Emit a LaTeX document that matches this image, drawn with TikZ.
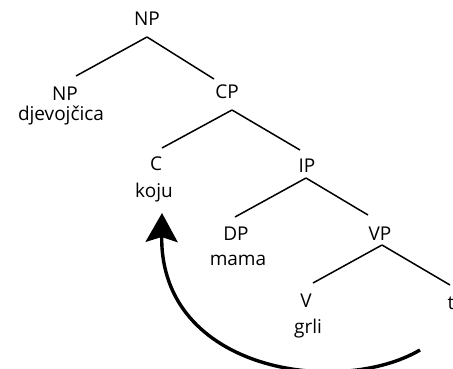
\documentclass[tikz,border=0pt]{standalone}
\usepackage{fontspec}
\setmainfont{Open Sans}
\usetikzlibrary{arrows.meta,calc}
\begin{document}
\begin{tikzpicture}[x=1pt,y=-1pt,
  lbl/.style={anchor=base, inner sep=0pt, font=\fontsize{19}{22}\selectfont, text=black},
  branch/.style={line width=1.5pt, draw=black},
  move/.style={line width=3.4pt, draw=black, -{Stealth[length=29pt,width=32pt,inset=5pt]}}]
\useasboundingbox (0,0) rectangle (453,369);
\clip (0,0) rectangle (453,369);
% labels
\node[lbl] (np0) at (147,26) {NP};
\node[lbl] (npl) at (65,100) {NP};
\node[lbl] (djev) at (61,121) {djevojčica};
\node[lbl] (cp) at (227,99) {CP};
\node[lbl] (c) at (156,170) {C};
\node[lbl] (koju) at (154,197) {koju};
\node[lbl] (ip) at (307,172) {IP};
\node[lbl] (dp) at (236,240) {DP};
\node[lbl] (mama) at (238,265) {mama};
\node[lbl] (vp) at (380,240) {VP};
\node[lbl] (v) at (306,307) {V};
\node[lbl] (grli) at (308,333) {grli};
\node[lbl] (t) at (451,309) {t};
% branches
\draw[branch] ($(np0.base)+(0,11)$) -- ($(npl.base)+(11,-24)$);
\draw[branch] ($(np0.base)+(0,11)$) -- ($(cp.base)+(-13,-20)$);
\draw[branch] ($(cp.base)+(5,11)$) -- ($(c.base)+(6,-22)$);
\draw[branch] ($(cp.base)+(5,11)$) -- ($(ip.base)+(-7,-22)$);
\draw[branch] ($(ip.base)+(-1,6)$) -- ($(dp.base)+(-1,-23)$);
\draw[branch] ($(ip.base)+(-1,6)$) -- ($(vp.base)+(-12,-25)$);
\draw[branch] ($(vp.base)+(2,5)$) -- ($(v.base)+(7,-24)$);
\draw[branch] ($(vp.base)+(2,5)$) -- ($(t.base)+(-1,-24)$);
% movement arrow
\coordinate (trace) at (420,350);
\draw[move] (trace) .. controls (340,397) and (160,372) .. ($(koju.base)+(8,16)$);
\end{tikzpicture}
\end{document}
